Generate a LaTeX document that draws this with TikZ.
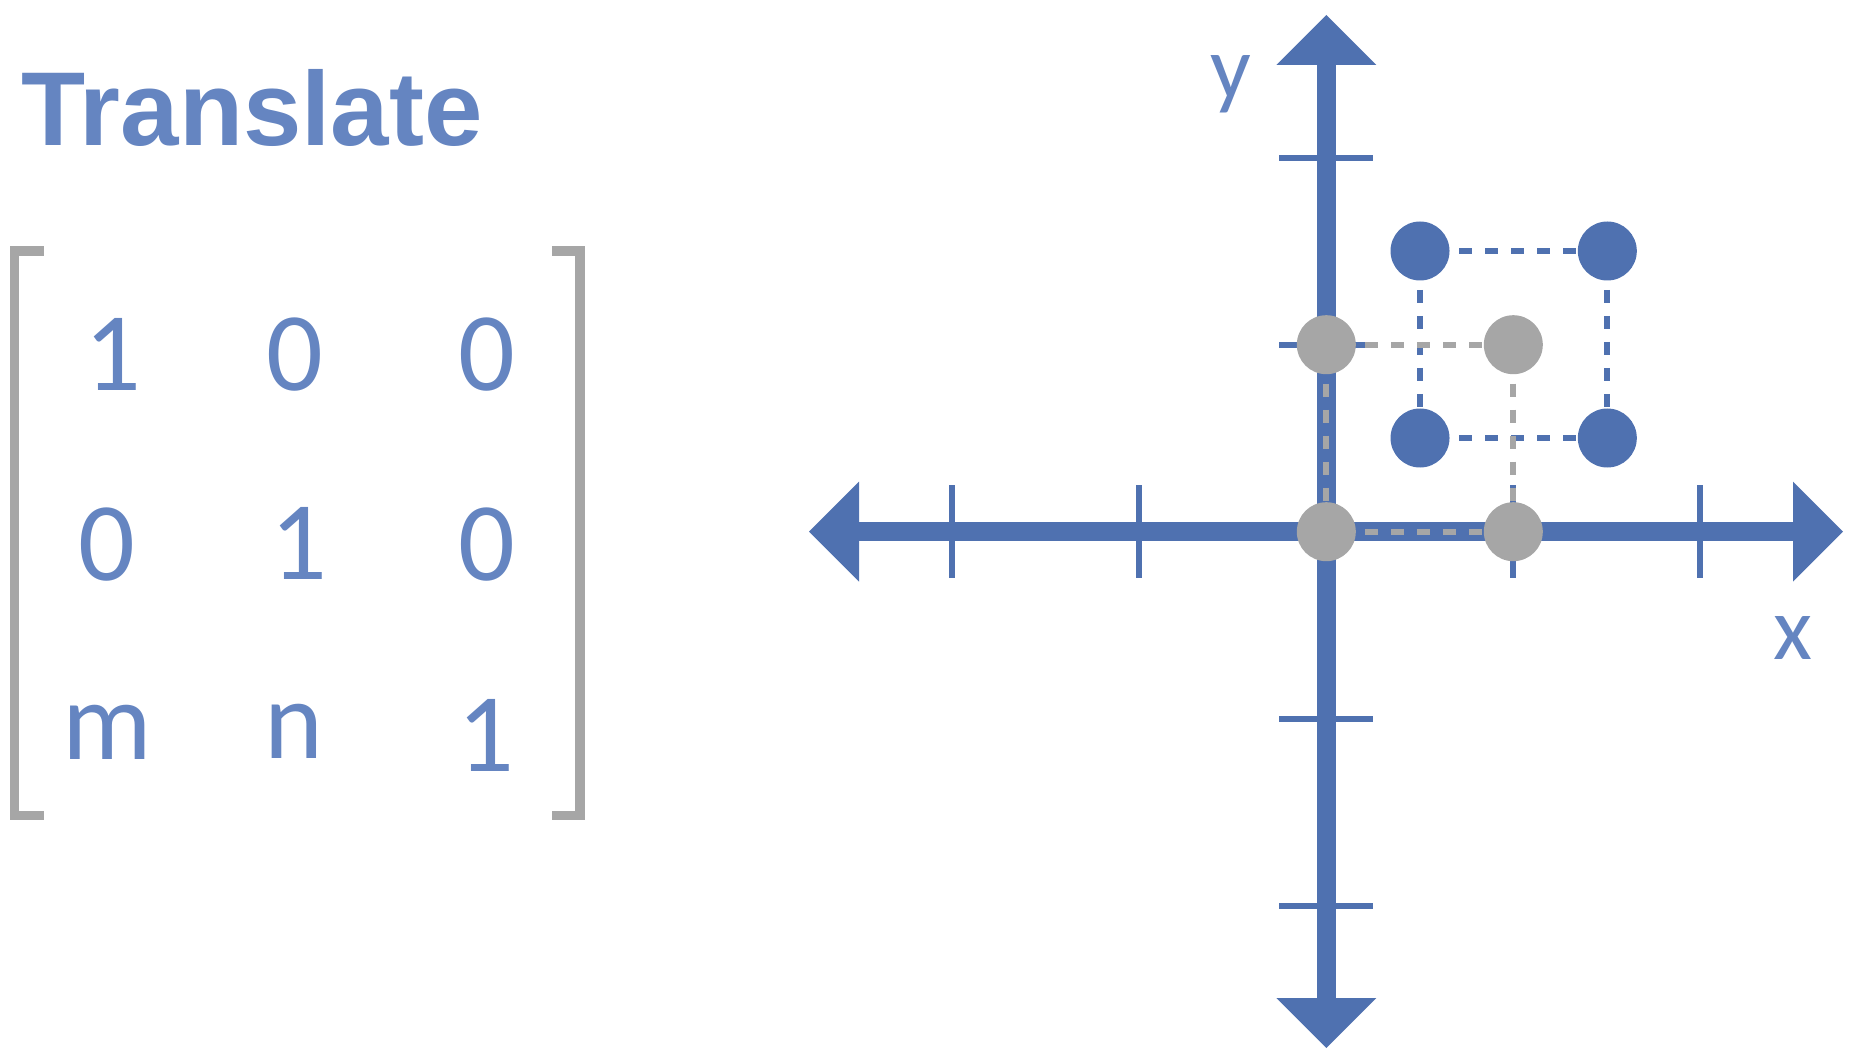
\documentclass[tikz,border=0pt]{standalone}
\usepackage{fontspec}
\setmainfont{Carlito}
\newfontfamily\titlefont{Liberation Sans}
\definecolor{axisblue}{RGB}{79,113,176}
\definecolor{textblue}{RGB}{101,133,193}
\definecolor{ptgrey}{RGB}{166,166,166}
\tikzset{
  tickline/.style={draw=axisblue, line width=3pt},
  bluedash/.style={draw=axisblue, line width=2.85pt, dash pattern=on 6.5pt off 6.5pt, dash phase=6.5pt},
  greydash/.style={draw=ptgrey, line width=2.85pt, dash pattern=on 6.5pt off 6.5pt, dash phase=6.5pt},
  bluept/.style={circle, fill=axisblue, minimum size=29.5pt, inner sep=0pt},
  greypt/.style={circle, fill=ptgrey, minimum size=29.5pt, inner sep=0pt},
  entry/.style={anchor=base, inner sep=0pt, text=textblue, font=\fontsize{56}{62}\selectfont},
  axlabel/.style={anchor=base, inner sep=0pt, text=textblue, font=\fontsize{45}{50}\selectfont},
  bracket/.style={draw=ptgrey, line width=4.7pt, line join=miter}
}
\begin{document}
\begin{tikzpicture}[x=0.5pt,y=-0.5pt]
\useasboundingbox (0,0) rectangle (1866,1063);
% title
\node[anchor=base west, inner sep=0pt, text=textblue, font=\titlefont\bfseries\fontsize{52.5}{60}\selectfont] (title) at (21,146) {Translate};
% brackets
\draw[bracket] (43.5,251) -- (14.6,251) -- (14.6,815.6) -- (43.5,815.6);
\draw[bracket] (551.9,251) -- (579.8,251) -- (579.8,815.6) -- (551.9,815.6);
% matrix entries
\node[entry] (m11) at (112.5,390.4) {1};
\node[entry] (m12) at (294.6,390.5) {0};
\node[entry] (m13) at (486.5,390.5) {0};
\node[entry] (m21) at (106.5,580) {0};
\node[entry] (m22) at (298.5,579.2) {1};
\node[entry] (m23) at (486.5,580) {0};
\node[entry] (m31) at (107.5,759.6) {m};
\node[entry] (m32) at (294.2,758) {n};
\node[entry] (m33) at (485.8,771.5) {1};
% axes
\fill[axisblue] (859,521.95) rectangle (1793,541.45);
\fill[axisblue] (859,481.7) -- (809,531.7) -- (859,581.7) -- cycle;
\fill[axisblue] (1793,481.7) -- (1843,531.7) -- (1793,581.7) -- cycle;
\fill[axisblue] (1316.55,65) rectangle (1336.05,998);
\fill[axisblue] (1276.3,65) -- (1326.3,15) -- (1376.3,65) -- cycle;
\fill[axisblue] (1276.3,998) -- (1326.3,1048) -- (1376.3,998) -- cycle;
% ticks
\foreach \tx in {952,1139,1513,1700} \draw[tickline] (\tx,485) -- (\tx,578);
\foreach \ty in {157.7,344.7,718.7,905.7} \draw[tickline] (1279,\ty) -- (1373,\ty);
% axis labels
\node[axlabel] (ylab) at (1231,99) {y};
\node[axlabel] (xlab) at (1793,659) {x};
% points
\coordinate (b1) at (1420,251);
\coordinate (b2) at (1607.3,251);
\coordinate (b3) at (1420,438);
\coordinate (b4) at (1607.3,438);
\coordinate (g1) at (1326.3,344.7);
\coordinate (g2) at (1513.3,344.7);
\coordinate (g3) at (1326.3,531.7);
\coordinate (g4) at (1513.3,531.7);
% dashed lines
\draw[bluedash] (b1) -- (b2);
\draw[bluedash] (b3) -- (b4);
\draw[bluedash] (b1) -- (b3);
\draw[bluedash] (b2) -- (b4);
\draw[greydash] (g1) -- (g2);
\draw[greydash] (g2) -- (g4);
\draw[greydash] (g1) -- (g3);
\draw[greydash] (g3) -- (g4);
% dots
\node[bluept] (B1) at (b1) {};
\node[bluept] (B2) at (b2) {};
\node[bluept] (B3) at (b3) {};
\node[bluept] (B4) at (b4) {};
\node[greypt] (G1) at (g1) {};
\node[greypt] (G2) at (g2) {};
\node[greypt] (G3) at (g3) {};
\node[greypt] (G4) at (g4) {};
\end{tikzpicture}
\end{document}
